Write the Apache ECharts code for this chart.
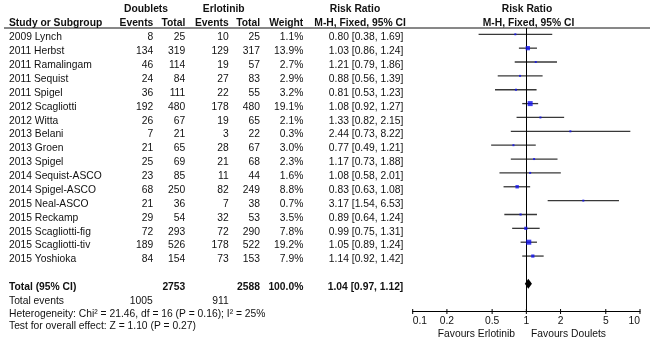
<!DOCTYPE html>
<html><head><meta charset="utf-8">
<script src="https://cdn.jsdelivr.net/npm/echarts@6/dist/echarts.min.js"></script>
<style>html,body{margin:0;padding:0;background:#fff}#c{width:650px;height:346px}</style>
</head><body><div id="c"></div>
<script>
// ---- data ----
const studies = ['2009 Lynch','2011 Herbst','2011 Ramalingam','2011 Sequist','2011 Spigel','2012 Scagliotti','2012 Witta','2013 Belani','2013 Groen','2013 Spigel','2014 Sequist-ASCO','2014 Spigel-ASCO','2015 Neal-ASCO','2015 Reckamp','2015 Scagliotti-fig','2015 Scagliotti-tiv','2015 Yoshioka'];
const doubletEvents = [8,134,46,24,36,192,26,7,21,25,23,68,21,29,72,189,84];
const doubletTotal = [25,319,114,84,111,480,67,21,65,69,85,250,36,54,293,526,154];
const erlotinibEvents = [10,129,19,27,22,178,19,3,28,21,11,82,7,32,72,178,73];
const erlotinibTotal = [25,317,57,83,55,480,65,22,67,68,44,249,38,53,290,522,153];
const weights = [1.1,13.9,2.7,2.9,3.2,19.1,2.1,0.3,3.0,2.3,1.6,8.8,0.7,3.5,7.8,19.2,7.9];
const riskRatio = [0.80,1.03,1.21,0.88,0.81,1.08,1.33,2.44,0.77,1.17,1.08,0.83,3.17,0.89,0.99,1.05,1.14];
const ciLow = [0.38,0.86,0.79,0.56,0.53,0.92,0.82,0.73,0.49,0.73,0.58,0.63,1.54,0.64,0.75,0.89,0.92];
const ciHigh = [1.69,1.24,1.86,1.39,1.23,1.27,2.15,8.22,1.21,1.88,2.01,1.08,6.53,1.24,1.31,1.24,1.42];
const totalDoublet = 2753, totalErlotinib = 2588, totalWeight = 100.0;
const totalEventsDoublet = 1005, totalEventsErlotinib = 911;
const pooled = [0.97, 1.04, 1.12]; // low, RR, high
const heterogeneityText = 'Heterogeneity: Chi\u00B2 = 21.46, df = 16 (P = 0.16); I\u00B2 = 25%';
const overallText = 'Test for overall effect: Z = 1.10 (P = 0.27)';
const tickValues = [0.1,0.2,0.5,1,2,5,10];

// ---- layout ----
const FONT = "'Liberation Sans', Arial, Helvetica, sans-serif";
const FS = 10.3;
const ROW0 = 34.3, ROWH = 13.86, H = 346;
const pxToV = y => (y - ROW0) / ROWH;
const TXT = 0.24;               // text baseline shift relative to mark row
const totalRow = 18;
const col = {study:9, dEv:153.3, dTot:185.3, eEv:228.7, eTot:260, w:303.3, ci:403.3};

const cells = [];
function cell(x, v, t, align, bold){ cells.push({x, v, t:String(t), align, bold:!!bold}); }
// headers
const h1 = pxToV(9), h2 = pxToV(23.3);
cell(146, h1, 'Doublets', 'center', true);
cell(223.7, h1, 'Erlotinib', 'center', true);
cell(355, h1, 'Risk Ratio', 'center', true);
cell(527, h1, 'Risk Ratio', 'center', true);
cell(col.study, h2, 'Study or Subgroup', 'left', true);
cell(col.dEv, h2, 'Events', 'right', true);
cell(col.dTot, h2, 'Total', 'right', true);
cell(col.eEv, h2, 'Events', 'right', true);
cell(col.eTot, h2, 'Total', 'right', true);
cell(col.w, h2, 'Weight', 'right', true);
cell(314.3, h2, 'M-H, Fixed, 95% CI', 'left', true);
cell(528.5, h2, 'M-H, Fixed, 95% CI', 'center', true);
// rows
studies.forEach((s, i) => {
  const v = i + TXT;
  cell(col.study, v, s, 'left');
  cell(col.dEv, v, doubletEvents[i], 'right');
  cell(col.dTot, v, doubletTotal[i], 'right');
  cell(col.eEv, v, erlotinibEvents[i], 'right');
  cell(col.eTot, v, erlotinibTotal[i], 'right');
  cell(col.w, v, weights[i].toFixed(1) + '%', 'right');
  cell(col.ci, v, riskRatio[i].toFixed(2) + ' [' + ciLow[i].toFixed(2) + ', ' + ciHigh[i].toFixed(2) + ']', 'right');
});
// total
const tv = totalRow + 0.22;
cell(col.study, tv, 'Total (95% CI)', 'left', true);
cell(col.dTot, tv, totalDoublet, 'right', true);
cell(col.eTot, tv, totalErlotinib, 'right', true);
cell(col.w, tv, totalWeight.toFixed(1) + '%', 'right', true);
cell(col.ci, tv, pooled[1].toFixed(2) + ' [' + pooled[0].toFixed(2) + ', ' + pooled[2].toFixed(2) + ']', 'right', true);
const ev = pxToV(300.7);
cell(col.study, ev, 'Total events', 'left');
cell(152.7, ev, totalEventsDoublet, 'right');
cell(col.eEv, ev, totalEventsErlotinib, 'right');
cell(col.study, pxToV(313.7), heterogeneityText, 'left');
cell(col.study, pxToV(325.7), overallText, 'left');
cell(515, pxToV(334), 'Favours Erlotinib', 'right');
cell(531, pxToV(334), 'Favours Doulets', 'left');

const headerLineV = pxToV(28);
const axisV = pxToV(311.5);

const chart = echarts.init(document.getElementById('c'), null, {renderer:'canvas'});
chart.setOption({
  animation: false,
  backgroundColor: '#fff',
  grid: [
    {left:0, right:0, top:0, bottom:0},
    {left:412.7, right:10, top:28, bottom:H-311.5}
  ],
  xAxis: [
    {gridIndex:0, type:'value', min:0, max:650, show:false},
    {gridIndex:1, type:'log', logBase:10, min:0.1, max:10, position:'bottom',
     axisLine:{show:true, onZero:false, lineStyle:{color:'#000', width:1}},
     axisTick:{show:false}, minorTick:{show:false}, splitLine:{show:false},
     axisLabel:{show:true, customValues:tickValues, margin:5, color:'#111', fontSize:FS, fontFamily:FONT,
       alignMinLabel:'left', alignMaxLabel:'right', formatter: v => String(+(+v).toPrecision(3))}}
  ],
  yAxis: [
    {gridIndex:0, type:'value', inverse:true, min:pxToV(0), max:pxToV(H), show:false},
    {gridIndex:1, type:'value', inverse:true, min:headerLineV, max:axisV, show:false}
  ],
  series: [
    { // table text
      type:'custom', xAxisIndex:0, yAxisIndex:0, silent:true, z:5,
      data: cells.map(c => [c.x, c.v]),
      renderItem: (params, api) => {
        const c = cells[params.dataIndex];
        const p = api.coord([c.x, c.v]);
        return {type:'text', x:p[0], y:p[1], style:{text:c.t, align:c.align, verticalAlign:'middle',
          font:(c.bold ? 'bold ' : '') + FS + 'px ' + FONT, fill:'#111'}};
      }
    },
    { // header rule
      type:'custom', xAxisIndex:0, yAxisIndex:0, silent:true, z:4,
      data: [[4, headerLineV, 650]],
      renderItem: (params, api) => {
        const a = api.coord([api.value(0), api.value(1)]);
        const b = api.coord([api.value(2), api.value(1)]);
        return {type:'line', shape:{x1:a[0], y1:a[1], x2:b[0], y2:b[1]}, style:{stroke:'#111', lineWidth:1}};
      }
    },
    { // confidence intervals
      type:'custom', xAxisIndex:1, yAxisIndex:1, silent:true, z:3,
      data: studies.map((s, i) => [ciLow[i], ciHigh[i], i]),
      encode:{x:[0,1], y:2},
      renderItem: (params, api) => {
        const a = api.coord([api.value(0), api.value(2)]);
        const b = api.coord([api.value(1), api.value(2)]);
        return {type:'line', shape:{x1:a[0], y1:a[1], x2:b[0], y2:b[1]}, style:{stroke:'#383838', lineWidth:1.3}};
      }
    },
    { // point estimates
      type:'scatter', xAxisIndex:1, yAxisIndex:1, silent:true, z:6,
      symbol:'rect',
      data: studies.map((s, i) => [riskRatio[i], i, weights[i]]),
      symbolSize: val => Math.max(2, 1.15 * Math.sqrt(val[2])),
      itemStyle:{color:'#1010f0'},
      markLine:{silent:true, symbol:'none', label:{show:false}, animation:false,
        lineStyle:{color:'#000', width:1, type:'solid'}, data:[{xAxis:1}]}
    },
    { // pooled diamond
      type:'custom', xAxisIndex:1, yAxisIndex:1, silent:true, z:6,
      data: [[pooled[0], pooled[1], pooled[2], totalRow]],
      encode:{x:[0,1,2], y:3},
      renderItem: (params, api) => {
        const y = api.value(3);
        const l = api.coord([api.value(0), y]);
        const c = api.coord([api.value(1), y]);
        const r = api.coord([api.value(2), y]);
        return {type:'polygon', shape:{points:[[l[0], l[1]], [c[0], c[1]-5], [r[0], r[1]], [c[0], c[1]+5]]},
          style:{fill:'#000'}};
      }
    },
    { // axis ticks crossing the axis line
      type:'custom', xAxisIndex:1, yAxisIndex:1, silent:true, z:6, clip:false,
      data: tickValues.map(t => [t, axisV]),
      renderItem: (params, api) => {
        const p = api.coord([api.value(0), api.value(1)]);
        return {type:'line', shape:{x1:p[0], y1:p[1]-2.5, x2:p[0], y2:p[1]+2.5}, style:{stroke:'#000', lineWidth:1}};
      }
    }
  ]
});
</script>
</body></html>
